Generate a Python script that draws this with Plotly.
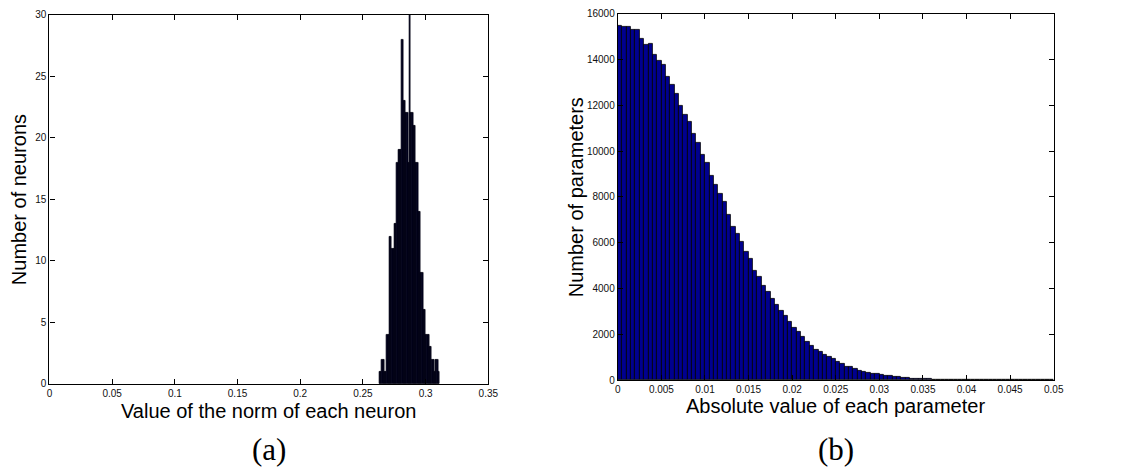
import numpy as np
import plotly.graph_objects as go

# ---------------- data ----------------
# (a) histogram of neuron norms: bins of width 0.001 starting at 0.263
norm_bin_start = 0.263
norm_bin_width = 0.001
norm_counts = [1, 1, 2, 2, 1, 1, 4, 4, 12, 12, 11, 11, 13, 13, 18, 19, 19, 19, 28,
               23, 23, 22, 22, 18, 30, 22, 22, 21, 21, 18, 18, 14, 14, 9, 9, 6, 6,
               4, 4, 4, 3, 3, 2, 2, 1, 2, 2, 1]

# (b) histogram of absolute parameter values: 100 bins of width 0.0005 from 0
param_bin_start = 0.0
param_bin_width = 0.0005
param_counts = [15457, 15430, 15414, 15300, 15314, 14929, 14657, 14700, 14214, 13943,
                13771, 13243, 12900, 12500, 11971, 11600, 11300, 10743, 10386, 9857,
                9471, 8914, 8529, 8143, 7800, 7203, 6676, 6377, 6021, 5623,
                5281, 4783, 4512, 4100, 3858, 3544, 3274, 3018, 2790, 2546,
                2290, 2091, 1892, 1664, 1494, 1337, 1238, 1124, 1010, 910,
                811, 711, 597, 569, 498, 412, 384, 327, 284, 256,
                213, 185, 171, 142, 128, 100, 88, 76, 66, 57,
                48, 41, 35, 29, 24, 20, 17, 14, 11, 9,
                7, 6, 5, 4, 3, 3, 2, 2, 1, 1,
                1, 0, 0, 0, 0, 0, 0, 0, 0, 0]

left_xticks = [0, 0.05, 0.1, 0.15, 0.2, 0.25, 0.3, 0.35]
left_xticklabels = ["0", "0.05", "0.1", "0.15", "0.2", "0.25", "0.3", "0.35"]
left_yticks = [0, 5, 10, 15, 20, 25, 30]
left_yticklabels = ["0", "5", "10", "15", "20", "25", "30"]
right_xticks = [0, 0.005, 0.01, 0.015, 0.02, 0.025, 0.03, 0.035, 0.04, 0.045, 0.05]
right_xticklabels = ["0", "0.005", "0.01", "0.015", "0.02", "0.025", "0.03",
                     "0.035", "0.04", "0.045", "0.05"]
right_yticks = [0, 2000, 4000, 6000, 8000, 10000, 12000, 14000, 16000]
right_yticklabels = ["0", "2000", "4000", "6000", "8000", "10000", "12000", "14000", "16000"]

# ---------------- figure ----------------
W, H = 1125, 474
norm_x = norm_bin_start + norm_bin_width * (np.arange(len(norm_counts)) + 0.5)
param_x = param_bin_start + param_bin_width * (np.arange(len(param_counts)) + 0.5)

fig = go.Figure()
fig.add_trace(go.Bar(x=norm_x, y=norm_counts, width=norm_bin_width,
                     marker=dict(color="#000020", line=dict(color="#000010", width=0.7)),
                     xaxis="x", yaxis="y", showlegend=False))
fig.add_trace(go.Bar(x=param_x, y=param_counts, width=param_bin_width,
                     marker=dict(color="#00008f", line=dict(color="#000000", width=0.8)),
                     xaxis="x2", yaxis="y2", showlegend=False))

def px_x(v):
    return v / W

def px_y(v):
    return 1 - v / H

tickfont = dict(family="Liberation Sans, Arial, sans-serif", size=10, color="#111111")
axis_common = dict(showline=True, linecolor="black", linewidth=1.2, mirror="ticks",
                   ticks="inside", ticklen=5, tickcolor="black", tickwidth=1,
                   showgrid=False, zeroline=False, tickfont=tickfont)

L_x0, L_x1, L_y0, L_y1 = 47, 491, 10, 388
R_x0, R_x1, R_y0, R_y1 = 622, 1063, 9, 384

fig.update_layout(
    width=W, height=H, margin=dict(l=0, r=0, t=0, b=0),
    plot_bgcolor="white", paper_bgcolor="white", bargap=0,
    xaxis=dict(domain=[px_x(L_x0), px_x(L_x1)], range=[0, 0.35], anchor="y",
               tickvals=left_xticks, ticktext=left_xticklabels, **axis_common),
    yaxis=dict(domain=[px_y(L_y1), px_y(L_y0)], range=[0, 30], anchor="x",
               tickvals=left_yticks, ticktext=left_yticklabels, **axis_common),
    xaxis2=dict(domain=[px_x(R_x0), px_x(R_x1)], range=[0, 0.05], anchor="y2",
                tickvals=right_xticks, ticktext=right_xticklabels, **axis_common),
    yaxis2=dict(domain=[px_y(R_y1), px_y(R_y0)], range=[0, 16000], anchor="x2",
                tickvals=right_yticks, ticktext=right_yticklabels, **axis_common),
)

title_font = dict(family="Liberation Sans, Arial, sans-serif", size=20, color="black")
label_font = dict(family="Liberation Serif, Times New Roman, serif", size=31, color="black")

annotations = [
    dict(text="Number of neurons", x=px_x(17), y=px_y((L_y0 + L_y1) / 2), textangle=-90,
         font=title_font),
    dict(text="Value of the norm of each neuron", x=px_x((L_x0 + L_x1) / 2), y=px_y(416),
         font=title_font),
    dict(text="(a)", x=px_x((L_x0 + L_x1) / 2), y=px_y(455), font=label_font),
    dict(text="Number of parameters", x=px_x(580), y=px_y((R_y0 + R_y1) / 2), textangle=-90,
         font=title_font),
    dict(text="Absolute value of each parameter", x=px_x((R_x0 + R_x1) / 2), y=px_y(411),
         font=title_font),
    dict(text="(b)", x=px_x((R_x0 + R_x1) / 2), y=px_y(455), font=label_font),
]
for a in annotations:
    a.update(xref="paper", yref="paper", showarrow=False, xanchor="center", yanchor="middle")
fig.update_layout(annotations=annotations)

fig.write_html("out.html")
